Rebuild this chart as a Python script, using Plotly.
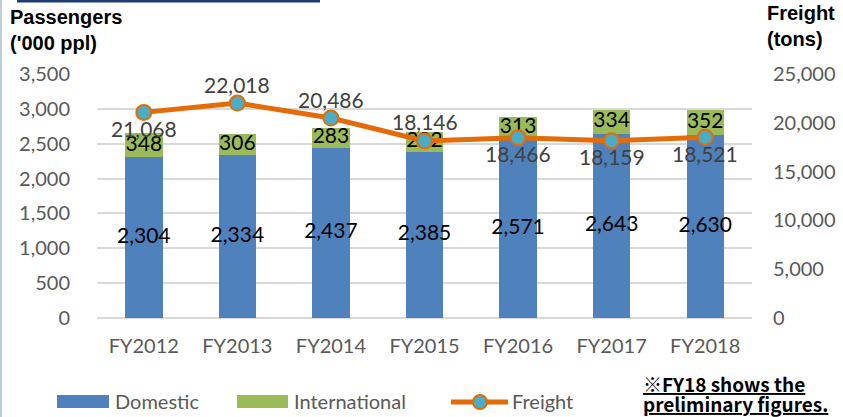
import plotly.graph_objects as go

categories = ["FY2012", "FY2013", "FY2014", "FY2015", "FY2016", "FY2017", "FY2018"]
domestic = [2304, 2334, 2437, 2385, 2571, 2643, 2630]
international = [348, 306, 283, 282, 313, 334, 352]
freight = [21068, 22018, 20486, 18146, 18466, 18159, 18521]
freight_label_above = [False, True, True, True, False, False, False]
left_ticks = [0, 500, 1000, 1500, 2000, 2500, 3000, 3500]
right_ticks = [0, 5000, 10000, 15000, 20000, 25000]

W, H = 843, 417
L, R, T, B = 97, 91, 74, 99
PW, PH = W - L - R, H - T - B

def px(x):
    return (x - L) / PW

def py(y):
    return (H - B - y) / PH

C_DOM = "#4f81bd"
C_INT = "#9bbb59"
C_FR = "#e36c09"
C_MK = "#4bacc6"
TICK = "#595959"
FONT = "Lato"

fig = go.Figure()
fig.add_trace(go.Bar(x=categories, y=domestic, name="Domestic", marker_color=C_DOM,
                     marker_line_width=0, width=0.4, showlegend=False, hoverinfo="skip"))
fig.add_trace(go.Bar(x=categories, y=international, name="International", marker_color=C_INT,
                     marker_line_width=0, width=0.4, showlegend=False, hoverinfo="skip"))
fig.add_trace(go.Scatter(x=categories, y=freight, yaxis="y2", mode="lines+markers",
                         name="Freight", line=dict(color=C_FR, width=5),
                         marker=dict(size=15, color=C_MK, line=dict(color=C_FR, width=2)),
                         showlegend=False, hoverinfo="skip"))
fig.add_trace(go.Scatter(x=categories, y=[d / 2 for d in domestic], mode="text",
                         text=[f"{v:,}" for v in domestic],
                         textfont=dict(family=FONT, size=21, color="black"),
                         showlegend=False, hoverinfo="skip"))
fig.add_trace(go.Scatter(x=categories, y=[d + i / 2 for d, i in zip(domestic, international)],
                         mode="text", text=[f"{v:,}" for v in international],
                         textfont=dict(family=FONT, size=21, color="black"),
                         showlegend=False, hoverinfo="skip"))

shapes = [
    dict(type="line", xref="paper", yref="paper", x0=px(1), x1=px(1), y0=py(0), y1=py(H),
         line=dict(color="#bfd0d4", width=2)),
    dict(type="line", xref="paper", yref="paper", x0=px(17), x1=px(320), y0=py(1), y1=py(1),
         line=dict(color="#1f3b73", width=3)),
    dict(type="rect", xref="paper", yref="paper", x0=px(57), x1=px(109), y0=py(395), y1=py(408),
         fillcolor=C_DOM, line_width=0),
    dict(type="rect", xref="paper", yref="paper", x0=px(237), x1=px(288), y0=py(395), y1=py(408),
         fillcolor=C_INT, line_width=0),
    dict(type="line", xref="paper", yref="paper", x0=px(451), x1=px(508), y0=py(402), y1=py(402),
         line=dict(color=C_FR, width=5)),
    dict(type="circle", xref="paper", yref="paper", x0=px(473), x1=px(487), y0=py(395), y1=py(409),
         fillcolor=C_MK, line=dict(color=C_FR, width=2)),
]

annotations = []
for c, v, above in zip(categories, freight, freight_label_above):
    annotations.append(dict(text=f"{v:,}", x=c, y=v, xref="x", yref="y2", showarrow=False,
                            xanchor="center", yanchor="middle", yshift=19 if above else -16,
                            font=dict(family=FONT, size=21, color="#404040")))

annotations += [
    dict(text="<b>Passengers<br>('000 ppl)</b>", xref="paper", yref="paper", x=px(8), y=py(4),
         xanchor="left", yanchor="top", align="left", showarrow=False,
         font=dict(family="Liberation Sans", size=20, color="black")),
    dict(text="<b>Freight<br>(tons)</b>", xref="paper", yref="paper", x=px(765), y=py(0),
         xanchor="left", yanchor="top", align="left", showarrow=False,
         font=dict(family="Liberation Sans", size=20, color="black")),
    dict(text="Domestic", xref="paper", yref="paper", x=px(113), y=py(401),
         xanchor="left", yanchor="middle", showarrow=False,
         font=dict(family=FONT, size=20, color=TICK)),
    dict(text="International", xref="paper", yref="paper", x=px(292), y=py(401),
         xanchor="left", yanchor="middle", showarrow=False,
         font=dict(family=FONT, size=20, color=TICK)),
    dict(text="Freight", xref="paper", yref="paper", x=px(510), y=py(401),
         xanchor="left", yanchor="middle", showarrow=False,
         font=dict(family=FONT, size=20, color=TICK)),
    dict(text="<b>※FY18 shows the</b>", xref="paper", yref="paper",
         x=px(641), y=py(383), xanchor="left", yanchor="middle", align="left", showarrow=False,
         font=dict(family="Noto Sans CJK JP", size=19, color="black", lineposition="under")),
    dict(text="<b>preliminary figures.</b>", xref="paper", yref="paper",
         x=px(641), y=py(403), xanchor="left", yanchor="middle", align="left", showarrow=False,
         font=dict(family="Noto Sans CJK JP", size=19, color="black", lineposition="under")),
]

fig.update_layout(
    width=W, height=H, margin=dict(l=L, r=R, t=T, b=B, autoexpand=False),
    paper_bgcolor="white", plot_bgcolor="white", barmode="stack", bargap=0.6,
    showlegend=False, shapes=shapes, annotations=annotations,
    xaxis=dict(showgrid=False, showline=False, ticks="", zeroline=False,
               tickfont=dict(family=FONT, size=20, color=TICK), ticklabelstandoff=14),
    yaxis=dict(range=[0, 3500], tickvals=left_ticks, tickformat=",", showgrid=True,
               gridcolor="#d9d9d9", gridwidth=1.5, zeroline=True, zerolinecolor="#d9d9d9",
               zerolinewidth=1.5, showline=False, ticks="",
               tickfont=dict(family=FONT, size=20, color=TICK), ticklabelstandoff=26),
    yaxis2=dict(range=[0, 25000], tickvals=right_ticks, tickformat=",", overlaying="y",
                side="right", showgrid=False, zeroline=False, showline=False, ticks="",
                tickfont=dict(family=FONT, size=20, color=TICK), ticklabelstandoff=20),
)

fig.write_html("out.html", config={"displayModeBar": False},
               post_script="document.body.style.margin='0';document.body.style.padding='0';")
